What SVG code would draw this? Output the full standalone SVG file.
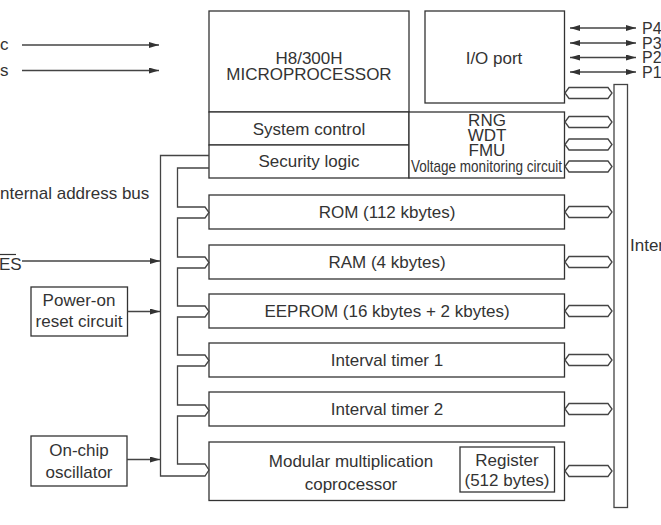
<svg xmlns="http://www.w3.org/2000/svg" width="661" height="525" viewBox="0 0 661 525">
<style>
text{font-family:"Liberation Sans",Arial,sans-serif;font-size:17px;fill:#333}
.c{text-anchor:middle}
.p{font-size:16px}
.box{fill:#fff;stroke:#333;stroke-width:1.3}
.ln{fill:none;stroke:#444;stroke-width:1.3}
.hx{fill:#fff;stroke:#444;stroke-width:1.3}
</style>
<defs>
<marker id="ah" viewBox="0 0 10 6" refX="10" refY="3" markerWidth="10" markerHeight="6" markerUnits="userSpaceOnUse" orient="auto-start-reverse"><path d="M0,0 L10,3 L0,6z" fill="#333"/></marker>
</defs>

<g id="cpu">
<rect class="box" x="209" y="11" width="200" height="101"/>
<text class="c" x="309" y="64">H8/300H</text>
<text class="c" x="309" y="80">MICROPROCESSOR</text>
</g>
<g id="sysctl">
<rect class="box" x="209" y="112" width="200" height="33"/>
<text class="c" x="309" y="135">System control</text>
</g>
<g id="security">
<rect class="box" x="209" y="145" width="200" height="33"/>
<text class="c" x="309" y="167">Security logic</text>
</g>
<g id="ioport">
<rect class="box" x="425" y="11" width="139.5" height="92"/>
<text class="c" x="494" y="64">I/O port</text>
</g>
<g id="periph">
<rect class="box" x="409" y="112" width="155.5" height="66"/>
<text class="c" x="487" y="126">RNG</text>
<text class="c" x="487" y="141">WDT</text>
<text class="c" x="487" y="156">FMU</text>
<text x="411" y="171.5" textLength="151" lengthAdjust="spacingAndGlyphs">Voltage monitoring circuit</text>
</g>
<g id="rom">
<rect class="box" x="209" y="195" width="355.5" height="34"/>
<text class="c" x="387" y="218">ROM (112 kbytes)</text>
</g>
<g id="ram">
<rect class="box" x="209" y="245" width="355.5" height="34"/>
<text class="c" x="387" y="268">RAM (4 kbytes)</text>
</g>
<g id="eeprom">
<rect class="box" x="209" y="294" width="355.5" height="34"/>
<text class="c" x="387" y="317">EEPROM (16 kbytes + 2 kbytes)</text>
</g>
<g id="timer1">
<rect class="box" x="209" y="343" width="355.5" height="34"/>
<text class="c" x="387" y="366">Interval timer 1</text>
</g>
<g id="timer2">
<rect class="box" x="209" y="392" width="355.5" height="34"/>
<text class="c" x="387" y="415">Interval timer 2</text>
</g>
<g id="modmul">
<rect class="box" x="209" y="442" width="355.5" height="58.5"/>
<text class="c" x="351" y="467">Modular multiplication</text>
<text class="c" x="351" y="490">coprocessor</text>
<rect class="box" x="460" y="447" width="94.5" height="45"/>
<text class="c" x="507" y="466">Register</text>
<text class="c" x="507" y="486">(512 bytes)</text>
</g>
<g id="poweron">
<rect class="box" x="31" y="287" width="96.5" height="49"/>
<text class="c" x="79" y="306">Power-on</text>
<text class="c" x="79" y="327">reset circuit</text>
</g>
<g id="osc">
<rect class="box" x="31" y="436" width="96" height="50"/>
<text class="c" x="79" y="456">On-chip</text>
<text class="c" x="79" y="478">oscillator</text>
</g>
<g id="databus">
<rect class="hx" x="614" y="84.5" width="13.5" height="423"/>
<text x="630" y="251">Inter</text>
</g>
<g id="labels">
<text x="0" y="50">c</text>
<text x="0" y="76">s</text>
<text x="0" y="199">nternal address bus</text>
<text x="-1" y="270">ES</text>
<line x1="0" y1="254.5" x2="16" y2="254.5" stroke="#333" stroke-width="1.2"/>
<text class="p" x="642" y="33.5">P4</text>
<text class="p" x="642" y="48.5">P3</text>
<text class="p" x="642" y="63">P2</text>
<text class="p" x="642" y="77.5">P1</text>
</g>

<g id="connectors">
<line class="ln" x1="22" y1="45" x2="159" y2="45" marker-end="url(#ah)"/>
<line class="ln" x1="22" y1="70.5" x2="159" y2="70.5" marker-end="url(#ah)"/>
<line class="ln" x1="22" y1="261" x2="160" y2="261" marker-end="url(#ah)"/>
<line class="ln" x1="127.5" y1="311.5" x2="160" y2="311.5" marker-end="url(#ah)"/>
<line class="ln" x1="127" y1="459.5" x2="160" y2="459.5" marker-end="url(#ah)"/>
<line class="ln" x1="570" y1="28" x2="636" y2="28" marker-start="url(#ah)" marker-end="url(#ah)"/>
<line class="ln" x1="570" y1="43" x2="636" y2="43" marker-start="url(#ah)" marker-end="url(#ah)"/>
<line class="ln" x1="570" y1="57.5" x2="636" y2="57.5" marker-start="url(#ah)" marker-end="url(#ah)"/>
<line class="ln" x1="570" y1="72" x2="636" y2="72" marker-start="url(#ah)" marker-end="url(#ah)"/>
<path class="ln" d="M209,155.5 H160.5 V476 H205 L209,470"/>
<path class="ln" d="M209,168 H177.5 V207 H205 L209,212.5 L205,218 H177.5 V257 H205 L209,262.5 L205,268 H177.5 V306 H205 L209,311.5 L205,317 H177.5 V355 H205 L209,360.5 L205,366 H177.5 V405 H205 L209,410.5 L205,416 H177.5 V464 H205 L209,470"/>
<path class="hx" d="M565,93 L569,87.5 H608 L612,93 L608,98.5 H569 Z"/>
<path class="hx" d="M565,122 L569,116.5 H608 L612,122 L608,127.5 H569 Z"/>
<path class="hx" d="M565,144.5 L569,139 H608 L612,144.5 L608,150 H569 Z"/>
<path class="hx" d="M565,166.5 L569,161 H608 L612,166.5 L608,172 H569 Z"/>
<path class="hx" d="M565,212 L569,206.5 H608 L612,212 L608,217.5 H569 Z"/>
<path class="hx" d="M565,262 L569,256.5 H608 L612,262 L608,267.5 H569 Z"/>
<path class="hx" d="M565,311 L569,305.5 H608 L612,311 L608,316.5 H569 Z"/>
<path class="hx" d="M565,360 L569,354.5 H608 L612,360 L608,365.5 H569 Z"/>
<path class="hx" d="M565,409 L569,403.5 H608 L612,409 L608,414.5 H569 Z"/>
<path class="hx" d="M565,471 L569,465.5 H608 L612,471 L608,476.5 H569 Z"/>
</g>
</svg>
